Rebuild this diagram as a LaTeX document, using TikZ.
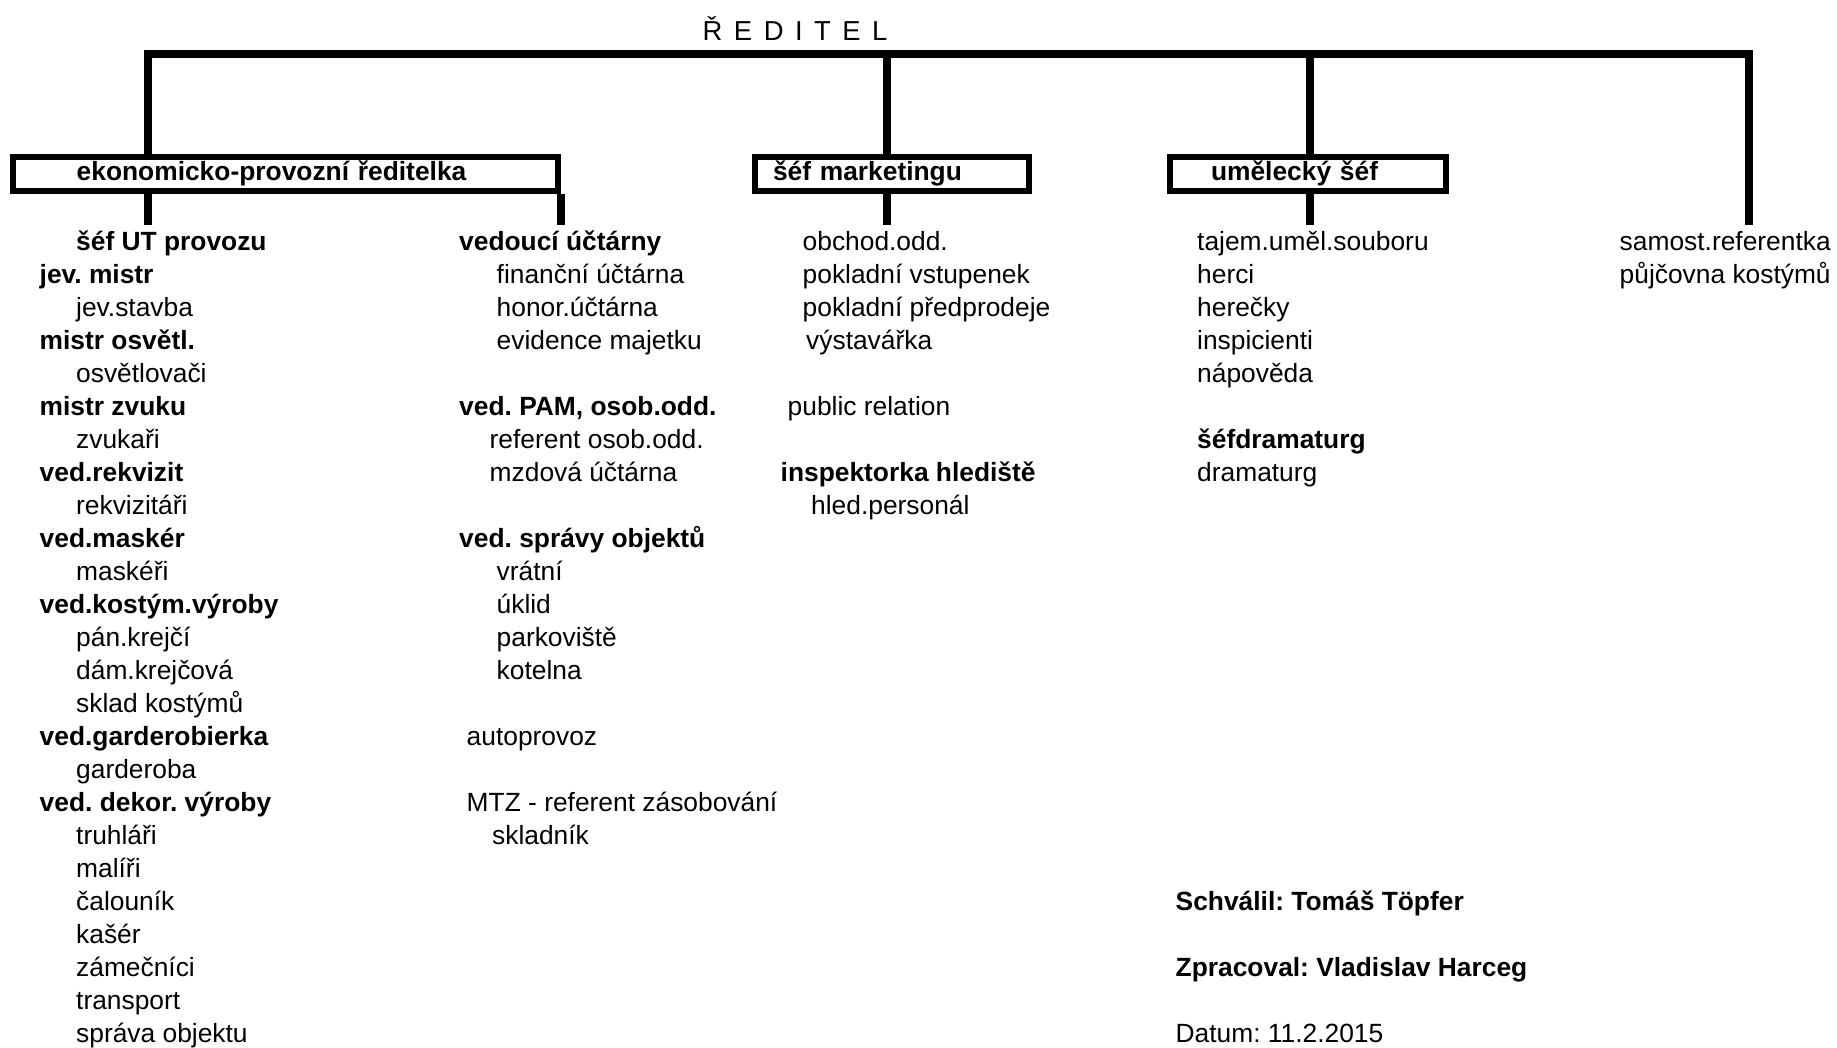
\documentclass[tikz,border=0pt]{standalone}
\usepackage{fontspec}
\setmainfont{Liberation Sans}
\frenchspacing
\newcommand{\odsaz}[1][3.65mm]{\hspace*{#1}}

\begin{document}
\begin{tikzpicture}[
    x=0.1mm, y=-0.1mm,
    connection/.style={line width=0.8mm, line join=miter},
    unit/.style={draw, line width=0.6mm, rectangle, minimum height=3.4mm, inner ysep=0pt,
        text height=2mm, text depth=0.7mm, align=left,
        font={\fontsize{7.5pt}{9.39pt}\selectfont\bfseries}},
    staff/.style={anchor=base west, inner sep=0pt, align=left,
        font={\fontsize{7.5pt}{9.39pt}\selectfont}},
    title/.style={anchor=base west, inner sep=0pt, font={\fontsize{7.8pt}{9pt}\selectfont}}
]
\useasboundingbox (0,0) rectangle (1837,1048);

% Title
\node[title] (reditel) at (702,40.7) {\spaceskip=1.15mm\relax Ř E D I T E L};

% Units
\node[unit, inner xsep=6.37mm, text width=41.76mm] (ekon) at (285.5,174) {ekonomicko-provozní ředitelka};
\node[unit, inner xsep=1.8mm, text width=23.75mm] (mark) at (891.75,174) {šéf marketingu};
\node[unit, inner xsep=4.1mm, text width=19.37mm] (umel) at (1307.85,174) {umělecký šéf};

% Lines
\coordinate (bar) at (148,54.5);
\coordinate (bar end) at (1748.7,54.5);
\coordinate (stem end) at (0,225);
\draw[connection] (ekon.north -| bar) -- (bar) -- (bar end) -- (bar end |- stem end);
\draw[connection] ([xshift=-0.45mm]mark.north) -- ([xshift=-0.45mm]mark.north |- bar);
\draw[connection] ([xshift=0.2mm]umel.north) -- ([xshift=0.2mm]umel.north |- bar);
\draw[connection] (ekon.south -| bar) -- (bar |- stem end);
\draw[connection] (ekon.south east) -- (ekon.south east |- stem end);
\draw[connection] ([xshift=-0.45mm]mark.south) -- ([xshift=-0.45mm]mark.south |- stem end);
\draw[connection] ([xshift=0.2mm]umel.south) -- ([xshift=0.2mm]umel.south |- stem end);

% ekonomicko-provozni (lists sit on the baseline of their last line)
\node[staff] (EP1) at (39,1042.7) {\odsaz\textbf{šéf UT provozu}\\
    \textbf{jev. mistr}\\
    \odsaz jev.stavba\\
    \textbf{mistr osvětl.}\\
    \odsaz osvětlovači\\
    \textbf{mistr zvuku}\\
    \odsaz zvukaři\\
    \textbf{ved.rekvizit}\\
    \odsaz rekvizitáři\\
    \textbf{ved.maskér}\\
    \odsaz maskéři\\
    \textbf{ved.kostým.výroby}\\
    \odsaz pán.krejčí\\
    \odsaz dám.krejčová\\
    \odsaz sklad kostýmů\\
    \textbf{ved.garderobierka}\\
    \odsaz garderoba\\
    \textbf{ved. dekor. výroby}\\
    \odsaz truhláři\\
    \odsaz malíři\\
    \odsaz čalouník\\
    \odsaz kašér\\
    \odsaz zámečníci\\
    \odsaz transport\\
    \odsaz správa objektu};

\node[staff] (EP2a) at (458.5,349.7) {\textbf{vedoucí účtárny}\\
    \odsaz[3.75mm]finanční účtárna\\
    \odsaz[3.75mm]honor.účtárna\\
    \odsaz[3.75mm]evidence majetku};
\node[staff] (EP2b) at (458.5,481.7) {\textbf{ved. PAM, osob.odd.}\\
    \odsaz[3.05mm]referent osob.odd.\\
    \odsaz[3.05mm]mzdová účtárna};
\node[staff] (EP2c) at (458.5,679.7) {\textbf{ved. správy objektů}\\
    \odsaz[3.75mm]vrátní\\
    \odsaz[3.75mm]úklid\\
    \odsaz[3.75mm]parkoviště\\
    \odsaz[3.75mm]kotelna};
\node[staff] (EP2d) at (466,745.7) {autoprovoz};
\node[staff] (EP2e) at (466,844.7) {MTZ - referent zásobování\\
    \odsaz[2.55mm]skladník};

% marketing
\node[staff] (M1) at (802,349.7) {obchod.odd.\\
    pokladní vstupenek\\
    pokladní předprodeje\\
    \odsaz[0.35mm]výstavářka};
\node[staff] (M2) at (787,415.7) {public relation};
\node[staff] (M3) at (780,514.7) {\textbf{inspektorka hlediště}\\
    \odsaz[3.05mm]hled.personál};

% umelecky
\node[staff] (U1) at (1196.5,382.7) {tajem.uměl.souboru\\
    herci\\
    herečky\\
    inspicienti\\
    nápověda};
\node[staff] (U2) at (1196.5,481.7) {\textbf{šéfdramaturg}\\
    dramaturg};

% samostatni
\node[staff] (SR) at (1619,283.7) {samost.referentka\\
    půjčovna kostýmů};

% Footer
\node[staff] (F1) at (1175,910.7) {\textbf{Schválil: Tomáš Töpfer}};
\node[staff] (F2) at (1175,976.7) {\textbf{Zpracoval: Vladislav Harceg}};
\node[staff] (F3) at (1175,1042.7) {Datum: 11.2.2015};

\end{tikzpicture}
\end{document}
